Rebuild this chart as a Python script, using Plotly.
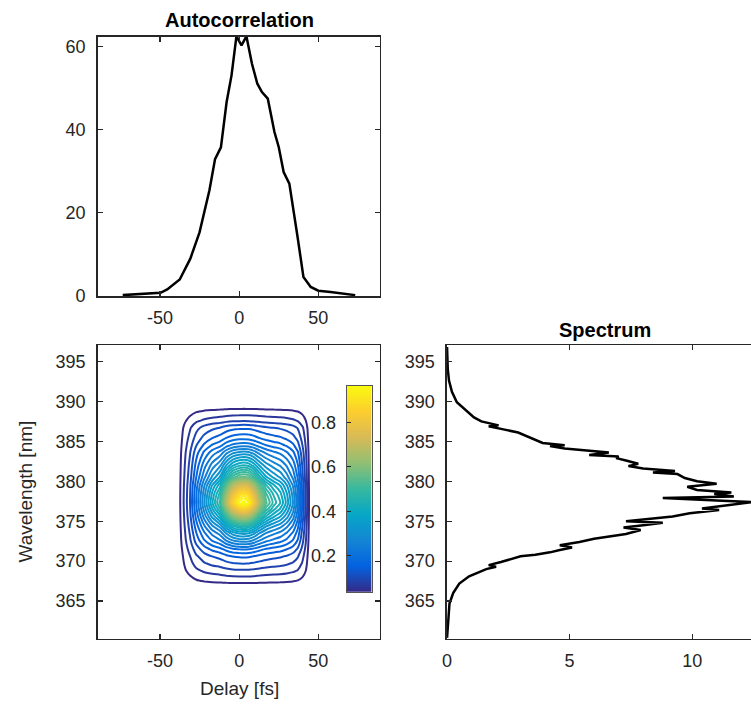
import numpy as np
import plotly.graph_objects as go

# ---------------- data ----------------
# Autocorrelation (delay in fs, signal)
ac_delay = [-73.5, -49.6, -45.4, -37.5, -30.8, -25.0, -18.75, -15.2, -11.5, -7.9, -4.8,
            -1.7, 1.5, 4.6, 8.1, 11.5, 14.4, 18.1, 22.3, 25.0, 28.1, 31.7, 36.9, 40.6,
            45.2, 50.0, 57.7, 73.3]
ac_signal = [0.24, 0.8, 1.6, 4.0, 9.0, 15.3, 25.4, 32.9, 35.7, 46.6, 53.0,
             62.4, 60.2, 62.4, 55.8, 51.0, 49.0, 47.4, 39.4, 35.8, 29.8, 27.0, 14.2, 4.6,
             2.2, 1.3, 1.0, 0.24]

# Spectrum (intensity, wavelength in nm)
spec_intensity = [0.0, 0.05, 0.1, 0.25, 0.5, 0.9, 1.3, 1.6, 2.0, 1.7, 2.2, 2.5, 3.0, 3.6,
                  4.2, 4.6, 5.1, 4.6, 5.4, 6.0, 6.7, 7.3, 7.9, 7.2, 8.0, 8.8, 7.3, 8.3,
                  9.2, 9.9, 11.1, 10.4, 11.2, 12.0, 12.45, 11.0, 8.8, 11.7, 10.9, 11.6,
                  10.2, 9.8, 10.4, 11.0, 10.2, 9.7, 9.4, 8.4, 9.3, 8.0, 7.4, 7.8, 7.3,
                  6.9, 7.0, 5.8, 6.6, 5.3, 4.8, 4.2, 4.8, 3.9, 3.4, 2.9, 2.3, 1.7, 2.1,
                  1.4, 1.1, 0.75, 0.4, 0.2, 0.08, 0.03, 0.0]
spec_wavelength = [360.4, 363.0, 364.7, 366.0, 367.2, 368.1, 368.6, 369.0, 369.3, 369.5,
                   369.9, 370.2, 370.6, 370.8, 371.1, 371.4, 371.7, 372.0, 372.4, 372.8,
                   373.1, 373.4, 373.9, 374.2, 374.5, 374.8, 375.0, 375.3, 375.6, 376.0,
                   376.4, 376.6, 376.9, 377.2, 377.4, 377.6, 377.9, 378.1, 378.4, 378.6,
                   378.9, 379.3, 379.5, 379.7, 380.0, 380.4, 380.9, 381.1, 381.3, 381.6,
                   381.9, 382.2, 382.6, 382.9, 383.1, 383.3, 383.6, 383.9, 384.1, 384.4,
                   384.5, 384.8, 385.4, 386.1, 386.5, 386.9, 387.0, 387.5, 388.0, 388.9,
                   389.9, 391.2, 392.6, 394.0, 396.8]

# FROG-type trace: cuts through the trace maximum (normalised)
trace_delay = [-89, -50, -42, -39, -37, -34, -31, -27, -22, -17, -12, -8, -4, 0, 3, 6,
               9, 13, 17, 22, 26, 30, 34, 37, 40, 42, 44, 46, 50, 89]
trace_delay_cut = [0.0, 0.0, 0.01, 0.03, 0.054, 0.09, 0.13, 0.21, 0.31, 0.41, 0.5, 0.68,
                   0.86, 0.97, 1.0, 0.96, 0.84, 0.66, 0.55, 0.48, 0.44, 0.38, 0.31, 0.24,
                   0.15, 0.1, 0.054, 0.02, 0.0, 0.0]
trace_wl = [360, 365, 366.5, 367.3, 368.8, 369.7, 370.6, 371.5, 372.6, 373.5, 374.3,
            375.6, 376.5, 377.3, 378.0, 378.5, 379.5, 380.5, 382.0, 383.6, 384.5, 385.4,
            386.7, 387.6, 389.0, 390.0, 391.5, 397]
trace_wl_cut = [0.0, 0.0, 0.02, 0.054, 0.1, 0.13, 0.16, 0.21, 0.3, 0.37, 0.46, 0.68,
                0.86, 1.0, 0.95, 0.9, 0.76, 0.58, 0.44, 0.32, 0.25, 0.2, 0.15, 0.1, 0.054,
                0.02, 0.0, 0.0]
trace_peak = 0.965
trace_cmin = 0.038
trace_shape = 1.0   # roundness of the iso-line rings

colorbar_ticks = [0.2, 0.4, 0.6, 0.8]
delay_ticks = [-50, 0, 50]
delay_ticklabels = ["-50", "0", "50"]
wl_ticks = [365, 370, 375, 380, 385, 390, 395]

# ---------------- figure ----------------
W, H = 751, 704          # reference picture size (layout fractions are taken from it)
FIG_H = 715              # drawn height; the photographed page is scaled back to 704

def px_x(a, b):
    return [a / W, b / W]
def py(y):
    return 1 - y / H
def px_y(top, bottom):
    return [py(bottom), py(top)]

parula = [
    [0.0, "#352a87"], [0.125, "#0363e1"], [0.25, "#1485d4"], [0.375, "#06a7c6"],
    [0.5, "#38b99e"], [0.625, "#92bf73"], [0.75, "#d9ba56"], [0.875, "#fcce2e"],
    [1.0, "#f9fb0e"],
]

AX = "#262626"
FONT = "Liberation Sans, Arial, Helvetica, sans-serif"
TICKFONT = dict(family=FONT, size=18, color=AX)

# combine the two cuts into a 2-D trace whose cuts through the maximum equal the inputs
P = np.maximum(np.array(trace_delay_cut), 1e-9)[None, :]
Q = np.maximum(np.array(trace_wl_cut), 1e-9)[:, None]
k = trace_shape
z = trace_peak * (P ** -k + Q ** -k - 1.0) ** (-1.0 / k)

fig = go.Figure()

fig.add_trace(go.Scatter(x=ac_delay, y=ac_signal, mode="lines",
                         line=dict(color="black", width=2.5),
                         xaxis="x", yaxis="y", showlegend=False))

fig.add_trace(go.Contour(x=trace_delay, y=trace_wl, z=z,
                         colorscale=parula, zmin=trace_cmin, zmax=trace_peak,
                         autocontour=False,
                         contours=dict(coloring="lines", start=0.05, end=0.95, size=0.025),
                         line=dict(width=2, smoothing=0.8),
                         showscale=False, xaxis="x2", yaxis="y2"))

fig.add_trace(go.Scatter(x=spec_intensity, y=spec_wavelength, mode="lines",
                         line=dict(color="black", width=2.5),
                         xaxis="x3", yaxis="y3", showlegend=False))

cb_vals = np.linspace(trace_cmin, trace_peak, 256)
fig.add_trace(go.Heatmap(x=[0], y=cb_vals, z=[[v] for v in cb_vals],
                         colorscale=parula, zmin=trace_cmin, zmax=trace_peak,
                         showscale=False, xaxis="x4", yaxis="y4", hoverinfo="skip"))

common = dict(showline=True, linecolor=AX, linewidth=1.6, mirror="ticks", ticks="inside",
              ticklen=5, tickwidth=1.2, tickcolor=AX, showgrid=False, zeroline=False,
              tickfont=TICKFONT)

dx1 = px_x(93.3, 377.3)
fig.update_layout(
    width=W, height=FIG_H, margin=dict(l=0, r=0, t=0, b=0, pad=0),
    paper_bgcolor="white", plot_bgcolor="white",
    xaxis=dict(domain=dx1, range=[-89.3, 88.8], tickvals=delay_ticks,
               ticktext=delay_ticklabels, anchor="y", ticklabelstandoff=5, **common),
    yaxis=dict(domain=px_y(37, 295.7), range=[0, 62.2], tickvals=[0, 20, 40, 60],
               anchor="x", ticklabelstandoff=7, **common),
    xaxis2=dict(domain=dx1, range=[-89.3, 88.8], tickvals=delay_ticks,
                ticktext=delay_ticklabels, anchor="y2", ticklabelstandoff=5, **common),
    yaxis2=dict(domain=px_y(345, 637.7), range=[360.3, 397.0], tickvals=wl_ticks,
                anchor="x2", ticklabelstandoff=7, **common),
    xaxis3=dict(domain=[445 / W, 1.0], range=[0, 12.4], tickvals=[0, 5, 10], anchor="y3",
                ticklabelstandoff=5, **common),
    yaxis3=dict(domain=px_y(345, 637.7), range=[360.3, 397.0], tickvals=wl_ticks,
                anchor="x3", ticklabelstandoff=7, **{**common, "mirror": False}),
    xaxis4=dict(domain=px_x(344, 369), range=[-0.5, 0.5], anchor="y4", showline=True,
                linecolor="#555555", linewidth=1, mirror=True, showticklabels=False,
                ticks="", showgrid=False, zeroline=False),
    yaxis4=dict(domain=px_y(385, 591), range=[trace_cmin, trace_peak], anchor="x4",
                side="left", tickvals=colorbar_ticks, showline=True, linecolor="#555555",
                linewidth=1, mirror=True, ticks="inside", ticklen=4, tickcolor=AX,
                showgrid=False, zeroline=False, tickfont=TICKFONT, ticklabelstandoff=6),
)

ann = [
    dict(text="<b>Autocorrelation</b>", x=235.7 / W, y=py(20), xref="paper", yref="paper",
         xanchor="center", yanchor="middle", showarrow=False,
         font=dict(family=FONT, size=20, color="black")),
    dict(text="<b>Spectrum</b>", x=604 / W, y=py(330), xref="paper", yref="paper",
         xanchor="center", yanchor="middle", showarrow=False,
         font=dict(family=FONT, size=20, color="black")),
    dict(text="Delay [fs]", x=236 / W, y=py(688), xref="paper", yref="paper",
         xanchor="center", yanchor="middle", showarrow=False,
         font=dict(family=FONT, size=19, color=AX)),
    dict(text="Wavelength [nm]", x=21 / W, y=py(491), xref="paper", yref="paper",
         xanchor="center", yanchor="middle", showarrow=False, textangle=-90,
         font=dict(family=FONT, size=19, color=AX)),
]
fig.update_layout(annotations=ann)

fig.write_html(
    "out.html",
    config={"displayModeBar": False, "staticPlot": True},
    post_script=(
        "var d=document.getElementById('{plot_id}');"
        "d.style.position='fixed';d.style.left='0px';d.style.top='0px';"
        "document.body.style.margin='0';document.body.style.overflow='hidden';"
        "document.documentElement.style.overflow='hidden';"
    ),
)
